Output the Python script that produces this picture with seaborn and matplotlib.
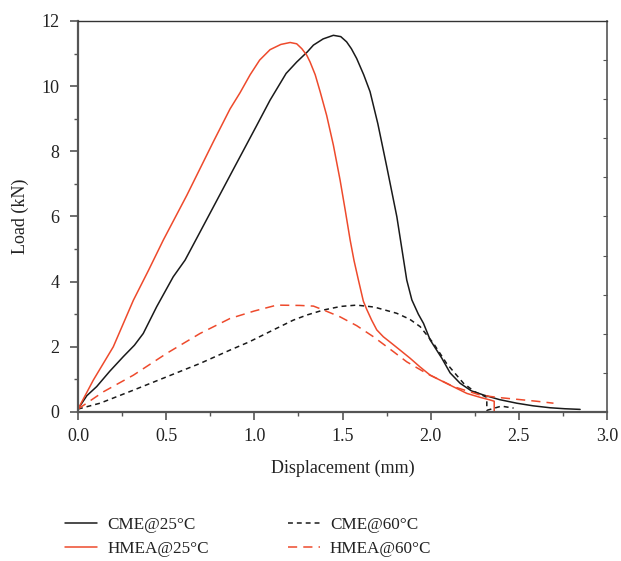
import matplotlib
matplotlib.use("Agg")
import matplotlib.pyplot as plt
import seaborn as sns
from matplotlib.ticker import MultipleLocator
from matplotlib.lines import Line2D

# ---- data ----
cme25_x = [0.0, 0.05, 0.106, 0.18, 0.257, 0.32, 0.37, 0.446, 0.54, 0.607, 0.673, 0.78, 0.881, 0.947, 1.01,
           1.089, 1.18, 1.24, 1.30, 1.335, 1.39, 1.448, 1.49, 1.523, 1.55, 1.58, 1.62, 1.656, 1.70,
           1.751, 1.808, 1.864, 1.893, 1.93, 1.959, 1.997, 2.063, 2.11, 2.167, 2.23, 2.30, 2.39,
           2.488, 2.58, 2.677, 2.76, 2.847]
cme25_y = [0.09, 0.50, 0.78, 1.25, 1.70, 2.05, 2.41, 3.23, 4.15, 4.66, 5.33, 6.42, 7.45, 8.12, 8.76,
           9.57, 10.39, 10.74, 11.05, 11.26, 11.45, 11.56, 11.52, 11.36, 11.15, 10.85, 10.35, 9.83, 8.85,
           7.52, 5.99, 4.05, 3.44, 3.0, 2.72, 2.21, 1.65, 1.2, 0.88, 0.65, 0.52, 0.38,
           0.27, 0.19, 0.13, 0.10, 0.08]

hmea25_x = [0.0, 0.087, 0.2, 0.314, 0.40, 0.484, 0.617, 0.768, 0.862, 0.919, 0.976, 1.03, 1.089,
            1.15, 1.203, 1.24, 1.269, 1.297, 1.316, 1.345, 1.373, 1.41, 1.448, 1.486, 1.515, 1.543,
            1.565, 1.59, 1.618, 1.637, 1.665, 1.694, 1.731, 1.78, 1.826, 1.883, 1.94, 1.997, 2.10,
            2.205, 2.28, 2.336, 2.36, 2.36]
hmea25_y = [0.09, 0.98, 2.0, 3.43, 4.35, 5.28, 6.65, 8.3, 9.3, 9.8, 10.35, 10.8, 11.12,
            11.28, 11.34, 11.3, 11.15, 10.95, 10.74, 10.35, 9.83, 9.1, 8.19, 7.12, 6.2, 5.28,
            4.65, 4.05, 3.40, 3.15, 2.82, 2.52, 2.31, 2.1, 1.9, 1.65, 1.38, 1.13, 0.85,
            0.57, 0.45, 0.37, 0.33, 0.02]

cme60_x = [0.0, 0.125, 0.314, 0.503, 0.692, 0.862, 0.97, 1.108, 1.221, 1.30, 1.392, 1.49, 1.58,
           1.68, 1.807, 1.88, 1.94, 2.015, 2.09, 2.186, 2.25, 2.318, 2.318, 2.40, 2.47]
cme60_y = [0.09, 0.27, 0.67, 1.08, 1.49, 1.9, 2.15, 2.52, 2.82, 2.98, 3.13, 3.24, 3.28,
           3.22, 3.03, 2.85, 2.62, 2.11, 1.49, 0.88, 0.62, 0.45, 0.05, 0.18, 0.12]

hmea60_x = [0.0, 0.144, 0.314, 0.503, 0.692, 0.862, 1.0, 1.127, 1.259, 1.335, 1.392, 1.486, 1.58,
            1.675, 1.789, 1.864, 1.978, 2.129, 2.28, 2.375, 2.488, 2.6, 2.696]
hmea60_y = [0.09, 0.62, 1.13, 1.80, 2.41, 2.87, 3.1, 3.28, 3.27, 3.25, 3.13, 2.92, 2.65,
            2.31, 1.85, 1.54, 1.18, 0.78, 0.52, 0.45, 0.39, 0.33, 0.27]

labels = ["CME@25°C", "HMEA@25°C", "CME@60°C", "HMEA@60°C"]
x_ticks = [0.0, 0.5, 1.0, 1.5, 2.0, 2.5, 3.0]
y_ticks = [0, 2, 4, 6, 8, 10, 12]

BLACK = "#1a1a1a"
RED = "#ee4a2c"

sns.set_style("ticks")
plt.rcParams["font.family"] = ["Liberation Serif", "DejaVu Serif"]
plt.rcParams["font.size"] = 12.5

fig = plt.figure(figsize=(6.21, 5.61), dpi=100)
ax = fig.add_axes([0.1256, 0.2656, 0.852, 0.697])

series = [
    (cme25_x, cme25_y, BLACK, "-"),
    (hmea25_x, hmea25_y, RED, "-"),
    (cme60_x, cme60_y, BLACK, (0, (3.2, 2.6))),
    (hmea60_x, hmea60_y, RED, (0, (6, 4))),
]
for (xs, ys, c, ls), lab in zip(series, labels):
    sns.lineplot(x=xs, y=ys, ax=ax, color=c, linestyle=ls, linewidth=1.1,
                 sort=False, estimator=None, label=lab, legend=False)

ax.set_xlim(0, 3.0)
ax.set_ylim(0, 12)
ax.set_xticks(x_ticks)
ax.set_xticklabels([f"{v:.1f}" for v in x_ticks])
ax.set_yticks(y_ticks)
ax.set_yticklabels([str(v) for v in y_ticks])
ax.xaxis.set_minor_locator(MultipleLocator(0.25))
ax.yaxis.set_minor_locator(MultipleLocator(1))
ax.tick_params(which="major", direction="out", length=5.8, width=1.2, color="#555555",
               labelsize=13, labelcolor="#222222")
ax.tick_params(which="minor", direction="out", length=3, width=1.0, color="#555555")
ax.tick_params(axis="x", which="major", pad=6)
ax.tick_params(axis="y", which="major", pad=7.5)
ax.set_xlabel("Displacement (mm)", fontsize=13, color="#222222", labelpad=10.5)
ax.set_ylabel("Load (kN)", fontsize=13, color="#222222", labelpad=9)

for side in ["left", "bottom"]:
    ax.spines[side].set_linewidth(1.6)
    ax.spines[side].set_color("#555555")
ax.spines["top"].set_linewidth(1.0)
ax.spines["top"].set_color("#333333")
ax.spines["right"].set_linewidth(1.2)
ax.spines["right"].set_color("#555555")
for s in ax.spines.values():
    s.set_visible(True)

# right inner ticks (secondary frame ticks)
ax2 = ax.twinx()
ax2.set_ylim(0, 10)
ax2.set_yticks(range(1, 10))
ax2.tick_params(axis="y", direction="in", length=3, width=0.8, color="#555555",
                labelright=False, right=True)
for s in ax2.spines.values():
    s.set_visible(False)

handles = [Line2D([], [], color=c, linestyle=ls, linewidth=1.1) for (_, _, c, ls) in series]
fig.legend(handles, labels, ncol=2, loc="center", bbox_to_anchor=(0.40, 0.043),
           frameon=False, fontsize=12.3, handlelength=1.85, handletextpad=0.6,
           columnspacing=4.65, labelspacing=0.5, labelcolor="#222222")

fig.savefig("out.png", dpi=100)
